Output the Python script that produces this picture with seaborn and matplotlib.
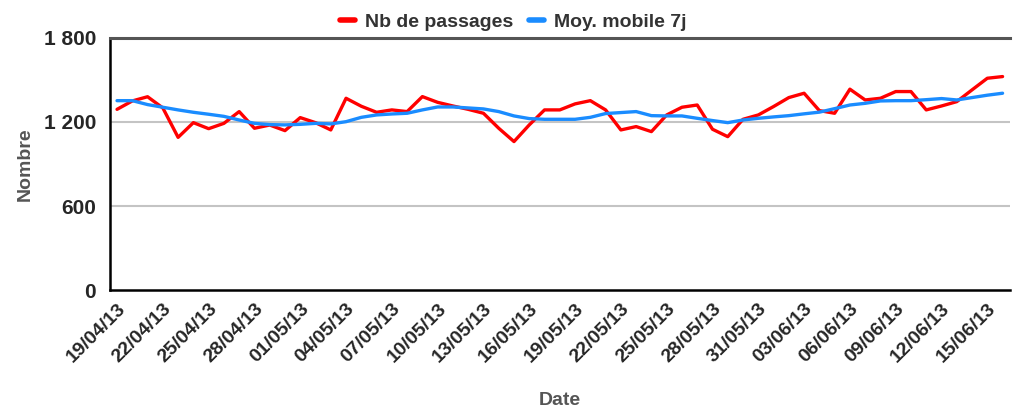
import pandas as pd
import numpy as np
import matplotlib
matplotlib.use("Agg")
import matplotlib.pyplot as plt
import matplotlib.ticker as mticker
from matplotlib.lines import Line2D
import seaborn as sns

start_date = "2013-04-19"
n_days = 59

passages = [1290, 1350, 1380, 1300, 1090, 1195, 1152, 1190, 1274, 1155,
            1178, 1138, 1231, 1195, 1143, 1369, 1312, 1269, 1286, 1274,
            1381, 1340, 1314, 1290, 1262, 1155, 1060, 1179, 1286, 1286,
            1329, 1352, 1286, 1143, 1167, 1131, 1250, 1305, 1321, 1148,
            1095, 1219, 1250, 1310, 1374, 1405, 1281, 1262, 1434, 1357,
            1369, 1417, 1417, 1286, 1314, 1345, 1429, 1512, 1524]

moy_mobile = [1352, 1352, 1324, 1305, 1286, 1269, 1255, 1240, 1214, 1190,
              1181, 1179, 1183, 1190, 1186, 1202, 1233, 1250, 1257, 1262,
              1286, 1307, 1307, 1300, 1293, 1274, 1243, 1224, 1219, 1219,
              1219, 1233, 1260, 1267, 1274, 1245, 1243, 1243, 1226, 1210,
              1195, 1214, 1226, 1236, 1245, 1258, 1270, 1295, 1321, 1333,
              1350, 1352, 1352, 1359, 1367, 1357, 1374, 1391, 1405]

series_names = ["Nb de passages", "Moy. mobile 7j"]
colors = ["#ff0000", "#1a8cff"]
y_ticks = [0, 600, 1200, 1800]

dates = pd.date_range(start_date, periods=n_days, freq="D")
df = pd.concat([
    pd.DataFrame({"Date": dates, "Nombre": passages, "serie": series_names[0]}),
    pd.DataFrame({"Date": dates, "Nombre": moy_mobile, "serie": series_names[1]}),
])

sns.set_style("white")
plt.rcParams["font.family"] = ["Liberation Sans", "DejaVu Sans"]
plt.rcParams["font.weight"] = "bold"

fig = plt.figure(figsize=(10.16, 4.12), dpi=100)
ax = fig.add_axes([0.1083, 0.296, 0.886, 0.612])

sns.lineplot(data=df, x="Date", y="Nombre", hue="serie", palette=colors,
             linewidth=2.4, ax=ax, legend=False)

ax.set_ylim(0, 1800)
ax.set_yticks(y_ticks)
ax.yaxis.set_major_formatter(mticker.FuncFormatter(lambda v, p: f"{int(v):,}".replace(",", " ")))
for y in y_ticks[1:3]:
    ax.axhline(y, color="#c4c4c4", lw=1.5, zorder=0)

ax.set_xlim(dates[0] - pd.Timedelta(hours=11), dates[-1] + pd.Timedelta(hours=12))
ax.set_xticks(dates[::3])
ax.set_xticklabels([d.strftime("%d/%m/%y") for d in dates[::3]],
                   rotation=45, ha="right", rotation_mode="anchor")

ax.tick_params(axis="x", direction="inout", length=9, width=1.2, color="black",
               labelsize=14, pad=3)
ax.tick_params(axis="y", length=0, labelsize=15, pad=10)

for s in ["left", "bottom"]:
    ax.spines[s].set_color("black")
    ax.spines[s].set_linewidth(1.8)
ax.spines["top"].set_color("#555555")
ax.spines["top"].set_linewidth(2.2)
ax.spines["right"].set_visible(False)

ax.set_xlabel("Date", fontsize=14, color="#555555", fontweight="bold")
ax.set_ylabel("Nombre", fontsize=14, color="#555555", fontweight="bold")
ax.xaxis.set_label_coords(0.5, -0.405)
ax.yaxis.set_label_coords(-0.085, 0.5)

handles = [Line2D([0], [0], color=c, lw=4) for c in colors]
fig.legend(handles, series_names, loc="upper center", bbox_to_anchor=(0.505, 1.01),
           ncol=2, frameon=False, handlelength=0.8, handletextpad=0.5,
           columnspacing=0.8, prop={"size": 14, "weight": "bold"}, labelcolor="#333333")

fig.savefig("out.png", dpi=100)
